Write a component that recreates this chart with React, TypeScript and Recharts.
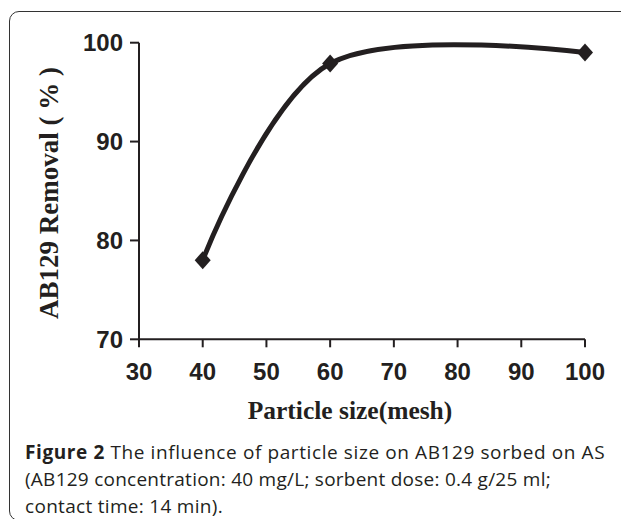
import React from "react";
import { LineChart, Line, XAxis, YAxis, Label } from "recharts";

const particleSizes = [40, 60, 100];
const removalPercent = [78, 97.9, 99];
const xTicks = [30, 40, 50, 60, 70, 80, 90, 100];
const yTicks = [70, 80, 90, 100];
const xLabel = "Particle size(mesh)";
const yLabel = "AB129 Removal ( % )";
const captionBold = "Figure 2";
const captionLines = [
  " The influence of particle size on AB129 sorbed on AS",
  "(AB129 concentration: 40 mg/L; sorbent dose: 0.4 g/25 ml;",
  "contact time: 14 min).",
];

const data = particleSizes.map((x, i) => ({ x, y: removalPercent[i] }));

const INK = "#231f20";

// Cardinal (tension 0) curve factory, like a spreadsheet "smoothed line"
function cardinalCurve(context: any) {
  const k = 1 / 6;
  let x0 = NaN, y0 = NaN, x1 = NaN, y1 = NaN, x2 = NaN, y2 = NaN;
  let pt = 0;
  let line: any = undefined;
  const seg = (x: number, y: number) => {
    context.bezierCurveTo(
      x1 + k * (x2 - x0),
      y1 + k * (y2 - y0),
      x2 + k * (x1 - x),
      y2 + k * (y1 - y),
      x2,
      y2
    );
  };
  return {
    areaStart() { line = 0; },
    areaEnd() { line = NaN; },
    lineStart() {
      x0 = x1 = x2 = y0 = y1 = y2 = NaN;
      pt = 0;
    },
    lineEnd() {
      if (pt === 2) context.lineTo(x2, y2);
      else if (pt === 3) seg(x1, y1);
      if (line || (line !== 0 && pt === 1)) context.closePath();
      line = 1 - line;
    },
    point(xv: any, yv: any) {
      const x = +xv;
      const y = +yv;
      if (pt === 0) {
        pt = 1;
        if (line) context.lineTo(x, y);
        else context.moveTo(x, y);
      } else if (pt === 1) {
        pt = 2;
        x1 = x;
        y1 = y;
      } else {
        pt = 3;
        seg(x, y);
      }
      x0 = x1; x1 = x2; x2 = x;
      y0 = y1; y1 = y2; y2 = y;
    },
  };
}

const Diamond = (props: any) => {
  const { cx, cy } = props;
  if (cx == null || cy == null) return null;
  const w = 8;
  const h = 9;
  return (
    <polygon
      points={`${cx},${cy - h} ${cx + w},${cy} ${cx},${cy + h} ${cx - w},${cy}`}
      fill={INK}
    />
  );
};

const tickStyle = {
  fontFamily: "'Liberation Sans', Arial, sans-serif",
  fontWeight: 700,
  fontSize: 24,
  fill: INK,
};

const labelFont = "'Liberation Serif', 'Times New Roman', serif";

export default function App() {
  return (
    <div style={{ position: "relative", width: 621, height: 511, overflow: "hidden" }}>
      <div
        style={{
          position: "absolute",
          left: 0.5,
          top: 3,
          width: 622,
          height: 510,
          boxSizing: "border-box",
          border: "1.5px solid #333",
          borderRadius: 10,
        }}
      />
      <div style={{ position: "absolute", left: 0, top: 0 }}>
        <LineChart
          width={621}
          height={430}
          data={data}
          margin={{ top: 34.7, right: 44, left: 0, bottom: 8.7 }}
        >
          <XAxis
            dataKey="x"
            type="number"
            domain={[30, 100]}
            ticks={xTicks}
            interval={0}
            height={90}
            tickSize={8}
            tickMargin={16}
            tick={tickStyle}
            axisLine={{ stroke: INK, strokeWidth: 2 }}
            tickLine={{ stroke: INK, strokeWidth: 2 }}
          >
            <Label
              content={(p: any) => {
                const vb = p.viewBox;
                return (
                  <text
                    x={vb.x + vb.width / 2 - 12}
                    y={vb.y + 80}
                    textAnchor="middle"
                    fontFamily={labelFont}
                    fontWeight={700}
                    fontSize={25.5}
                    fill={INK}
                  >
                    {xLabel}
                  </text>
                );
              }}
            />
          </XAxis>
          <YAxis
            type="number"
            domain={[70, 100]}
            ticks={yTicks}
            interval={0}
            width={131}
            tickSize={9}
            tickMargin={7}
            tick={tickStyle}
            axisLine={{ stroke: INK, strokeWidth: 2 }}
            tickLine={{ stroke: INK, strokeWidth: 2 }}
          >
            <Label
              content={(p: any) => {
                const vb = p.viewBox;
                const x = vb.x + 50;
                const y = vb.y + vb.height / 2 + 2;
                return (
                  <text
                    x={x}
                    y={y}
                    textAnchor="middle"
                    transform={`rotate(-90, ${x}, ${y})`}
                    fontFamily={labelFont}
                    fontWeight={700}
                    fontSize={27}
                    fill={INK}
                  >
                    {yLabel}
                  </text>
                );
              }}
            />
          </YAxis>
          <Line
            type={cardinalCurve as any}
            dataKey="y"
            stroke={INK}
            strokeWidth={5}
            dot={(p: any) => <Diamond key={`d-${p.index}`} {...p} />}
            activeDot={false}
            isAnimationActive={false}
          />
        </LineChart>
      </div>
      <div
        style={{
          position: "absolute",
          left: 17,
          top: 431,
          fontFamily: "'Open Sans', sans-serif",
          fontSize: 19,
          lineHeight: "27px",
          whiteSpace: "nowrap",
          color: INK,
        }}
      >
        <div style={{ letterSpacing: 0.6 }}>
          <b>{captionBold}</b>
          {captionLines[0]}
        </div>
        <div style={{ letterSpacing: 0.25 }}>{captionLines[1]}</div>
        <div style={{ letterSpacing: 0.3 }}>{captionLines[2]}</div>
      </div>
    </div>
  );
}
